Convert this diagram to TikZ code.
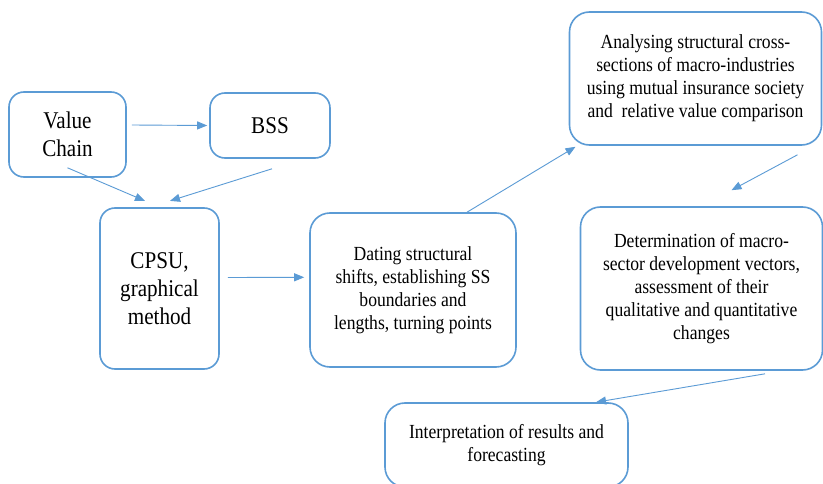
\documentclass[tikz,border=0pt]{standalone}
\usepackage{fontspec}
\setmainfont[FakeStretch=0.88]{Liberation Serif}
\usetikzlibrary{arrows.meta, positioning}
\definecolor{wblue}{RGB}{91,155,213}

\begin{document}
\begin{tikzpicture}[x=1pt, y=1pt,
  box/.style={draw=wblue, line width=1.6pt, rounded corners=15pt, fill=white,
              align=center, inner sep=0pt},
  big/.style={box, font=\fontsize{24}{28}\selectfont},
  small/.style={box, font=\fontsize{20}{23}\selectfont},
  link/.style={draw=wblue, line width=0.9pt, -{Triangle[length=10pt,width=8pt]}},
]
\clip (0,0) rectangle (823,483);
\fill[white] (0,0) rectangle (823,483);
% boxes
\node[big, minimum width=117pt, minimum height=85pt] (vchain) at (67.5,348.5) {Value\\Chain};
\node[big, minimum width=120pt, minimum height=65pt] (bss) at (270,357.5) {BSS};
\node[big, minimum width=119pt, minimum height=161pt] (cpsu) at (159.5,194.5) {CPSU,\\graphical\\method};
\node[small, minimum width=206pt, minimum height=154pt, rounded corners=20pt] (dating) at (413,193)
  {Dating structural\\shifts, establishing SS\\boundaries and\\lengths, turning points};
\node[small, minimum width=252pt, minimum height=133pt, rounded corners=20pt] (analysing) at (695.5,404.5)
  {Analysing structural cross-\\sections of macro-industries\\using mutual insurance society\\and\ \ relative value comparison};
\node[small, minimum width=242pt, minimum height=163pt, rounded corners=20pt] (determ) at (701.5,194.5)
  {Determination of macro-\\sector development vectors,\\assessment of their\\qualitative and quantitative\\changes};
\node[small, minimum width=243pt, minimum height=84pt, rounded corners=20pt] (interp) at (506.5,38)
  {Interpretation of results and\\forecasting};
% connectors
\draw[link] ([xshift=5pt,yshift=9.5pt]vchain.east) -- ([xshift=-2pt]bss.west);
\draw[link] ([yshift=10pt]vchain.south) -- ([xshift=-14.5pt,yshift=6.3pt]cpsu.north);
\draw[link] ([xshift=2pt,yshift=-10pt]bss.south) -- ([xshift=10.5pt,yshift=6.3pt]cpsu.north);
\draw[link] ([xshift=8pt,yshift=11pt]cpsu.east) -- ([xshift=-5pt,yshift=12.7pt]dating.west);
\draw[link] ([xshift=54pt]dating.north) -- ([xshift=-120pt,yshift=-1pt]analysing.south);
\draw[link] ([xshift=102pt,yshift=-9pt]analysing.south) -- ([xshift=30pt,yshift=16pt]determ.north);
\draw[link] ([xshift=63.5pt,yshift=-3pt]determ.south) -- ([xshift=89.5pt]interp.north);
\end{tikzpicture}
\end{document}
